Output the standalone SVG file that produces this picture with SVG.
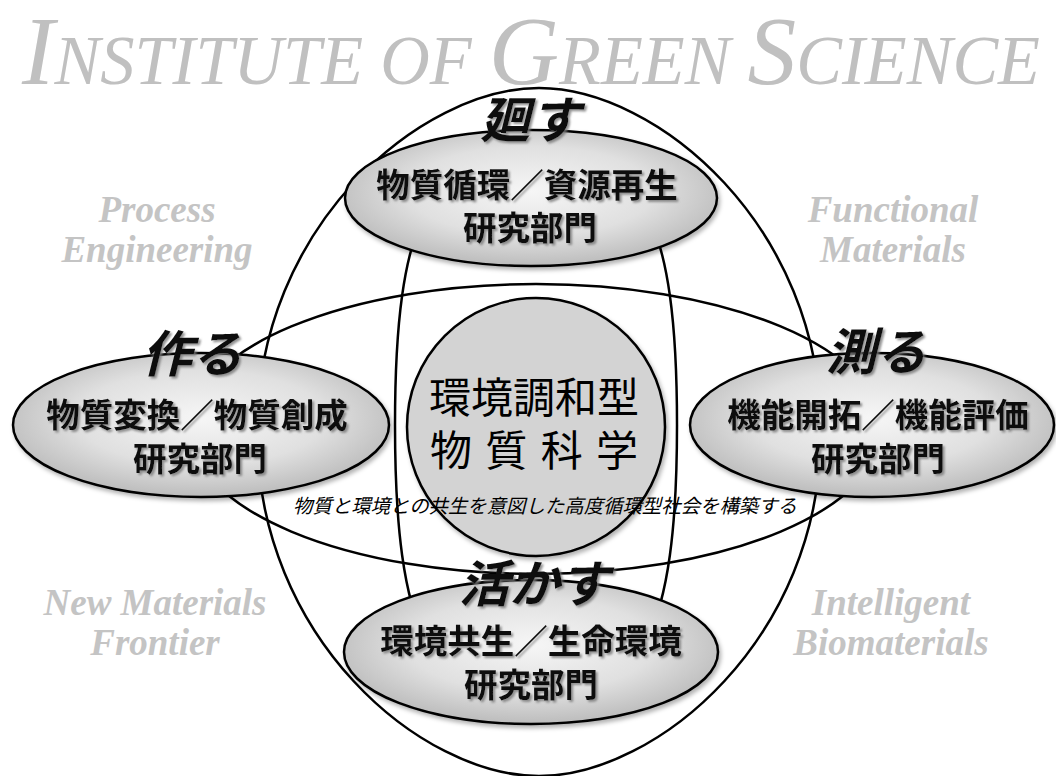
<svg xmlns="http://www.w3.org/2000/svg" width="1056" height="776" viewBox="0 0 1056 776">
<defs>
<radialGradient id="ng" cx="50%" cy="45%" r="55%">
<stop offset="0" stop-color="#f6f6f6"/>
<stop offset="0.6" stop-color="#e0e0e0"/>
<stop offset="1" stop-color="#bcbcbc"/>
</radialGradient>
<filter id="sh" x="-10%" y="-10%" width="125%" height="130%">
<feDropShadow dx="2" dy="3" stdDeviation="2" flood-color="#000" flood-opacity="0.3"/>
</filter>
<filter id="tsh" x="-5%" y="-20%" width="115%" height="150%">
<feDropShadow dx="2" dy="2" stdDeviation="1.2" flood-color="#777" flood-opacity="0.8"/>
</filter>
</defs>
<style>
.title{font-family:"Liberation Serif",serif;font-style:italic;fill:#c0c0c0}
.gray{font-family:"Liberation Serif",serif;font-style:italic;font-weight:bold;fill:#c4c4c4;font-size:37px;text-anchor:middle}
.line{fill:none;stroke:#000;stroke-width:2.5}
.node{fill:url(#ng);stroke:#000;stroke-width:2.5;filter:url(#sh)}
.nt{font-family:"Noto Sans CJK JP","Noto Sans CJK SC",sans-serif;font-weight:bold;font-size:33.5px;fill:#111;text-anchor:middle;filter:url(#tsh)}
.verb{font-family:"Noto Sans CJK JP","Noto Sans CJK SC",sans-serif;font-weight:bold;font-style:italic;font-size:50px;fill:#111;text-anchor:middle;filter:url(#tsh)}
.ct{font-family:"Noto Sans CJK JP","Noto Sans CJK SC",sans-serif;font-size:42px;fill:#000;text-anchor:middle}
.tag{font-family:"Noto Sans CJK JP","Noto Sans CJK SC",sans-serif;font-style:italic;font-size:19.4px;fill:#000;text-anchor:middle}
</style>
<rect width="1056" height="776" fill="#fff"/>
<g id="title">
<text class="title" x="22" y="84" textLength="1018" lengthAdjust="spacingAndGlyphs"><tspan font-size="98">I</tspan><tspan font-size="69">NSTITUTE OF </tspan><tspan font-size="98">G</tspan><tspan font-size="69">REEN </tspan><tspan font-size="98">S</tspan><tspan font-size="69">CIENCE</tspan></text>
</g>
<g id="fields">
<text class="gray" x="157" y="222">Process</text>
<text class="gray" x="157" y="262">Engineering</text>
<text class="gray" x="893" y="222">Functional</text>
<text class="gray" x="893" y="262">Materials</text>
<text class="gray" x="155" y="615">New Materials</text>
<text class="gray" x="155" y="655">Frontier</text>
<text class="gray" x="891" y="615">Intelligent</text>
<text class="gray" x="891" y="655">Biomaterials</text>
</g>
<g id="connectors">
<path class="line" d="M539,88 C657,88 821,226 821,432 C821,638 657,776 539,776 C421,776 257,638 257,432 C257,226 421,88 539,88 Z"/>
<path class="line" d="M536,150 C642,150 677,220 677,425 C677,630 642,705 536,705 C430,705 395,630 395,425 C395,220 430,150 536,150 Z"/>
<ellipse class="line" cx="536" cy="429" rx="346" ry="145"/>
</g>
<g id="center">
<circle cx="536" cy="427" r="129" fill="#d3d3d3" stroke="#000" stroke-width="2.5" filter="url(#sh)"/>
<text class="ct" x="534" y="413">環境調和型</text>
<text class="ct" x="534" y="466" textLength="208" lengthAdjust="spacing">物質科学</text>
</g>
<g id="node-top">
<ellipse class="node" cx="531" cy="198" rx="186" ry="68"/>
<text class="nt" x="527" y="197">物質循環／資源再生</text>
<text class="nt" x="530" y="240">研究部門</text>
</g>
<g id="node-left">
<ellipse class="node" cx="201" cy="425" rx="188" ry="72"/>
<text class="nt" x="197" y="427">物質変換／物質創成</text>
<text class="nt" x="200" y="471">研究部門</text>
</g>
<g id="node-right">
<ellipse class="node" cx="872" cy="425" rx="182" ry="72"/>
<text class="nt" x="878" y="427">機能開拓／機能評価</text>
<text class="nt" x="878" y="471">研究部門</text>
</g>
<g id="node-bottom">
<ellipse class="node" cx="531" cy="652" rx="187" ry="72"/>
<text class="nt" x="531" y="653">環境共生／生命環境</text>
<text class="nt" x="531" y="697">研究部門</text>
</g>
<g id="verbs">
<text class="verb" x="530" y="138">廻す</text>
<text class="verb" x="192" y="372">作る</text>
<text class="verb" x="876" y="370">測る</text>
<text class="verb" x="534" y="602" textLength="150" lengthAdjust="spacingAndGlyphs">活かす</text>
</g>
<text class="tag" x="545" y="513">物質と環境との共生を意図した高度循環型社会を構築する</text>
</svg>
